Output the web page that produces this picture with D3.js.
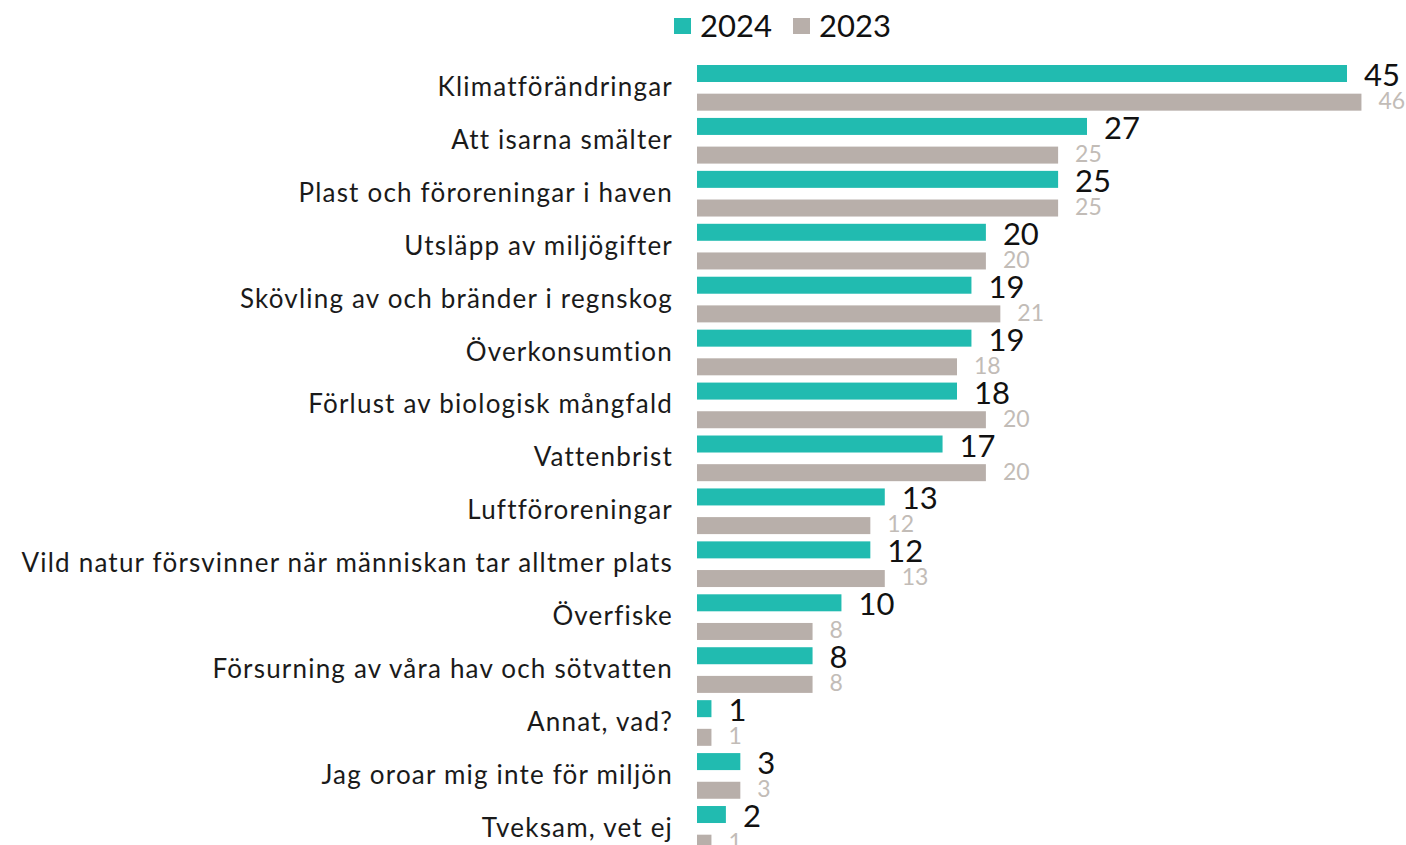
<!DOCTYPE html>
<html>
<head>
<meta charset="utf-8">
<script src="https://cdn.jsdelivr.net/npm/d3@7"></script>
<style>
  body { margin: 0; background: #fff; }
  svg text { font-family: "Lato", "DejaVu Sans", sans-serif; }
</style>
</head>
<body>
<div id="chart"></div>
<script>
// Chart data
const categories = [
  "Klimatförändringar",
  "Att isarna smälter",
  "Plast och föroreningar i haven",
  "Utsläpp av miljögifter",
  "Skövling av och bränder i regnskog",
  "Överkonsumtion",
  "Förlust av biologisk mångfald",
  "Vattenbrist",
  "Luftföroreningar",
  "Vild natur försvinner när människan tar alltmer plats",
  "Överfiske",
  "Försurning av våra hav och sötvatten",
  "Annat, vad?",
  "Jag oroar mig inte för miljön",
  "Tveksam, vet ej"
];
const values2024 = [45, 27, 25, 20, 19, 19, 18, 17, 13, 12, 10, 8, 1, 3, 2];
const values2023 = [46, 25, 25, 20, 21, 18, 20, 20, 12, 13, 8, 8, 1, 3, 1];
const seriesNames = ["2024", "2023"];

const width = 1406;
const height = 845;
const barLeft = 697;
const colors = { "2024": "#21bbb0", "2023": "#b8afaa" };

const svg = d3.select("#chart")
  .append("svg")
  .attr("width", width)
  .attr("height", height);

const x = d3.scaleLinear()
  .domain([0, 45])
  .range([barLeft, 1347]);

const y = d3.scaleBand()
  .domain(categories)
  .range([65, 65 + 52.93 * 15])
  .paddingInner(0)
  .paddingOuter(0);

const inner = d3.scaleBand()
  .domain(seriesNames)
  .range([0, 43])
  .paddingInner(0.5);

const rows = categories.map((c, i) => ({ cat: c, v: [values2024[i], values2023[i]] }));

const group = svg.append("g").selectAll("g")
  .data(rows)
  .join("g")
  .attr("transform", d => `translate(0,${y(d.cat)})`);

// category labels
group.append("text")
  .attr("x", 673)
  .attr("y", 21.5)
  .attr("dy", "0.36em")
  .attr("text-anchor", "end")
  .attr("font-size", 26)
  .attr("letter-spacing", 1.2)
  .attr("fill", "#1a1a1a")
  .text(d => d.cat);

// bars and value labels
seriesNames.forEach((s, k) => {
  group.append("rect")
    .attr("x", x(0))
    .attr("y", inner(s))
    .attr("width", d => x(d.v[k]) - x(0))
    .attr("height", 17)
    .attr("fill", colors[s]);

  group.append("text")
    .attr("x", d => x(d.v[k]) + 17)
    .attr("y", k === 0 ? 21 : 44)
    .attr("font-size", k === 0 ? 31 : 23)
    .attr("fill", k === 0 ? "#111" : "#c2bcb7")
    .text(d => d.v[k]);
});

// legend
const legend = svg.append("g");
const legendX = [674, 793];
seriesNames.forEach((s, k) => {
  legend.append("rect")
    .attr("x", legendX[k])
    .attr("y", 18)
    .attr("width", 17)
    .attr("height", 16)
    .attr("fill", colors[s]);
  legend.append("text")
    .attr("x", legendX[k] + 26)
    .attr("y", 37)
    .attr("font-size", 31)
    .attr("fill", "#111")
    .text(s);
});
</script>
</body>
</html>
